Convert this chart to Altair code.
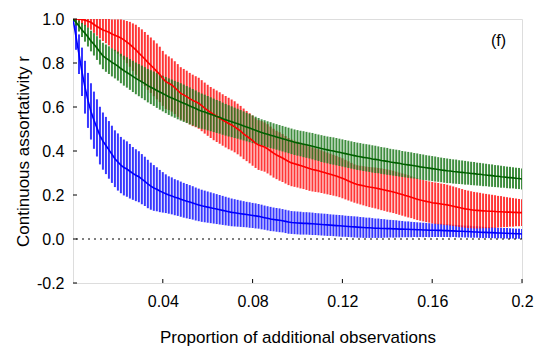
import altair as alt
import pandas as pd

# ---- data ----
N_STEPS = 150
X_MAX = 0.2
x_vals = [round(i * X_MAX / N_STEPS, 6) for i in range(N_STEPS + 1)]

blue_mean = [
    1.000, 0.920, 0.840, 0.760, 0.690, 0.630, 0.580, 0.540, 0.505, 0.470,
    0.445, 0.425, 0.405, 0.385, 0.365, 0.350, 0.336, 0.325, 0.318, 0.308,
    0.298, 0.290, 0.283, 0.272, 0.262, 0.250, 0.240, 0.232, 0.226, 0.218,
    0.212, 0.206, 0.200, 0.196, 0.190, 0.186, 0.181, 0.176, 0.172, 0.168,
    0.164, 0.159, 0.155, 0.151, 0.148, 0.145, 0.142, 0.139, 0.136, 0.133,
    0.130, 0.127, 0.124, 0.121, 0.119, 0.117, 0.115, 0.113, 0.111, 0.109,
    0.107, 0.105, 0.103, 0.100, 0.097, 0.094, 0.091, 0.089, 0.087, 0.085,
    0.083, 0.080, 0.077, 0.075, 0.074, 0.073, 0.072, 0.071, 0.071, 0.070,
    0.069, 0.068, 0.067, 0.066, 0.065, 0.064, 0.063, 0.062, 0.061, 0.060,
    0.059, 0.058, 0.057, 0.056, 0.055, 0.054, 0.053, 0.052, 0.051, 0.051,
    0.050, 0.049, 0.049, 0.048, 0.048, 0.047, 0.047, 0.046, 0.046, 0.045,
    0.045, 0.044, 0.044, 0.043, 0.043, 0.042, 0.042, 0.041, 0.041, 0.040,
    0.040, 0.040, 0.039, 0.039, 0.038, 0.038, 0.037, 0.037, 0.036, 0.035,
    0.035, 0.034, 0.034, 0.033, 0.032, 0.032, 0.031, 0.030, 0.030, 0.029,
    0.029, 0.028, 0.027, 0.027, 0.026, 0.026, 0.025, 0.025, 0.024, 0.024,
    0.023,
]
blue_err = [
    0.000, 0.060, 0.090, 0.110, 0.120, 0.125, 0.128, 0.130, 0.130, 0.131,
    0.130, 0.130, 0.131, 0.130, 0.129, 0.130, 0.128, 0.127, 0.126, 0.124,
    0.120, 0.118, 0.116, 0.114, 0.112, 0.110, 0.107, 0.104, 0.100, 0.096,
    0.092, 0.088, 0.085, 0.084, 0.082, 0.081, 0.080, 0.079, 0.078, 0.077,
    0.076, 0.075, 0.074, 0.073, 0.072, 0.071, 0.070, 0.069, 0.068, 0.067,
    0.066, 0.065, 0.064, 0.063, 0.062, 0.061, 0.060, 0.059, 0.058, 0.058,
    0.057, 0.057, 0.056, 0.056, 0.055, 0.055, 0.055, 0.054, 0.054, 0.054,
    0.053, 0.053, 0.053, 0.052, 0.052, 0.052, 0.052, 0.051, 0.051, 0.051,
    0.051, 0.050, 0.050, 0.050, 0.050, 0.050, 0.049, 0.049, 0.049, 0.049,
    0.049, 0.048, 0.048, 0.048, 0.048, 0.048, 0.047, 0.047, 0.046, 0.046,
    0.045, 0.044, 0.044, 0.043, 0.042, 0.041, 0.040, 0.040, 0.039, 0.038,
    0.037, 0.036, 0.036, 0.035, 0.034, 0.034, 0.033, 0.033, 0.032, 0.032,
    0.031, 0.031, 0.030, 0.030, 0.029, 0.029, 0.029, 0.028, 0.028, 0.028,
    0.027, 0.027, 0.027, 0.027, 0.026, 0.026, 0.026, 0.026, 0.025, 0.025,
    0.025, 0.025, 0.024, 0.024, 0.024, 0.024, 0.024, 0.023, 0.023, 0.023,
    0.023,
]

red_mean = [
    1.000, 1.000, 0.999, 0.998, 0.995, 0.990, 0.985, 0.975, 0.966, 0.958,
    0.950, 0.945, 0.940, 0.932, 0.926, 0.920, 0.914, 0.905, 0.895, 0.885,
    0.872, 0.860, 0.845, 0.832, 0.818, 0.803, 0.790, 0.776, 0.762, 0.748,
    0.730, 0.715, 0.708, 0.700, 0.688, 0.675, 0.662, 0.655, 0.647, 0.638,
    0.630, 0.624, 0.617, 0.606, 0.595, 0.585, 0.575, 0.566, 0.558, 0.550,
    0.541, 0.533, 0.525, 0.518, 0.510, 0.500, 0.490, 0.478, 0.468, 0.458,
    0.447, 0.436, 0.427, 0.423, 0.418, 0.410, 0.400, 0.390, 0.382, 0.375,
    0.368, 0.360, 0.352, 0.346, 0.342, 0.338, 0.334, 0.330, 0.325, 0.320,
    0.316, 0.313, 0.310, 0.306, 0.302, 0.298, 0.294, 0.290, 0.286, 0.281,
    0.276, 0.270, 0.264, 0.258, 0.252, 0.248, 0.245, 0.242, 0.239, 0.236,
    0.234, 0.232, 0.229, 0.226, 0.223, 0.220, 0.217, 0.214, 0.210, 0.206,
    0.202, 0.198, 0.194, 0.190, 0.185, 0.181, 0.177, 0.174, 0.171, 0.168,
    0.165, 0.163, 0.161, 0.159, 0.157, 0.155, 0.152, 0.149, 0.146, 0.143,
    0.140, 0.137, 0.135, 0.133, 0.131, 0.130, 0.129, 0.128, 0.127, 0.126,
    0.126, 0.125, 0.124, 0.124, 0.123, 0.122, 0.122, 0.121, 0.121, 0.120,
    0.120,
]
red_err = [
    0.000, 0.010, 0.015, 0.020, 0.025, 0.030, 0.034, 0.038, 0.042, 0.046,
    0.050, 0.055, 0.060, 0.066, 0.072, 0.078, 0.084, 0.090, 0.096, 0.102,
    0.108, 0.114, 0.118, 0.121, 0.123, 0.125, 0.126, 0.127, 0.127, 0.126,
    0.125, 0.124, 0.122, 0.121, 0.120, 0.120, 0.119, 0.118, 0.118, 0.117,
    0.117, 0.116, 0.116, 0.116, 0.116, 0.116, 0.116, 0.117, 0.117, 0.117,
    0.117, 0.117, 0.117, 0.116, 0.116, 0.115, 0.115, 0.115, 0.114, 0.114,
    0.114, 0.113, 0.113, 0.113, 0.112, 0.112, 0.111, 0.111, 0.110, 0.110,
    0.109, 0.108, 0.107, 0.106, 0.105, 0.104, 0.104, 0.103, 0.102, 0.101,
    0.100, 0.099, 0.098, 0.097, 0.096, 0.095, 0.094, 0.093, 0.092, 0.091,
    0.091, 0.090, 0.089, 0.088, 0.087, 0.087, 0.088, 0.089, 0.090, 0.091,
    0.092, 0.093, 0.094, 0.095, 0.095, 0.096, 0.096, 0.096, 0.096, 0.096,
    0.096, 0.096, 0.096, 0.095, 0.095, 0.095, 0.094, 0.094, 0.094, 0.094,
    0.094, 0.094, 0.094, 0.093, 0.093, 0.092, 0.091, 0.090, 0.089, 0.088,
    0.087, 0.086, 0.085, 0.084, 0.083, 0.082, 0.081, 0.079, 0.078, 0.077,
    0.075, 0.074, 0.072, 0.071, 0.069, 0.068, 0.066, 0.065, 0.063, 0.062,
    0.061,
]

green_mean = [
    1.000, 0.985, 0.968, 0.950, 0.935, 0.918, 0.900, 0.885, 0.868, 0.850,
    0.832, 0.822, 0.813, 0.803, 0.795, 0.786, 0.775, 0.765, 0.757, 0.748,
    0.739, 0.730, 0.722, 0.714, 0.706, 0.697, 0.690, 0.683, 0.675, 0.668,
    0.661, 0.654, 0.647, 0.641, 0.635, 0.629, 0.623, 0.617, 0.611, 0.605,
    0.599, 0.593, 0.586, 0.581, 0.577, 0.572, 0.567, 0.562, 0.557, 0.553,
    0.547, 0.542, 0.537, 0.533, 0.528, 0.524, 0.519, 0.514, 0.509, 0.504,
    0.499, 0.494, 0.489, 0.484, 0.480, 0.476, 0.472, 0.468, 0.464, 0.460,
    0.456, 0.452, 0.448, 0.444, 0.440, 0.437, 0.434, 0.431, 0.428, 0.425,
    0.422, 0.418, 0.415, 0.411, 0.408, 0.405, 0.402, 0.400, 0.397, 0.394,
    0.391, 0.388, 0.385, 0.382, 0.379, 0.376, 0.374, 0.371, 0.369, 0.367,
    0.364, 0.362, 0.360, 0.357, 0.355, 0.353, 0.350, 0.348, 0.346, 0.344,
    0.341, 0.339, 0.337, 0.335, 0.333, 0.331, 0.328, 0.326, 0.324, 0.322,
    0.320, 0.318, 0.316, 0.314, 0.312, 0.310, 0.309, 0.307, 0.306, 0.304,
    0.303, 0.301, 0.300, 0.298, 0.297, 0.295, 0.294, 0.292, 0.291, 0.289,
    0.288, 0.286, 0.285, 0.283, 0.282, 0.280, 0.279, 0.278, 0.276, 0.275,
    0.273,
]
green_err = [
    0.000, 0.015, 0.025, 0.032, 0.038, 0.043, 0.047, 0.051, 0.054, 0.057,
    0.060, 0.062, 0.063, 0.064, 0.065, 0.066, 0.067, 0.068, 0.069, 0.070,
    0.071, 0.072, 0.073, 0.074, 0.075, 0.076, 0.077, 0.078, 0.079, 0.080,
    0.081, 0.082, 0.083, 0.084, 0.084, 0.085, 0.085, 0.085, 0.084, 0.084,
    0.083, 0.082, 0.081, 0.080, 0.079, 0.078, 0.077, 0.076, 0.075, 0.074,
    0.073, 0.072, 0.071, 0.070, 0.069, 0.068, 0.067, 0.066, 0.065, 0.064,
    0.063, 0.062, 0.061, 0.060, 0.060, 0.059, 0.059, 0.058, 0.058, 0.058,
    0.058, 0.058, 0.058, 0.058, 0.058, 0.058, 0.058, 0.059, 0.059, 0.059,
    0.060, 0.060, 0.060, 0.061, 0.061, 0.061, 0.062, 0.062, 0.062, 0.062,
    0.062, 0.062, 0.062, 0.062, 0.062, 0.062, 0.062, 0.062, 0.062, 0.062,
    0.062, 0.062, 0.061, 0.061, 0.061, 0.061, 0.060, 0.060, 0.060, 0.060,
    0.059, 0.059, 0.059, 0.059, 0.058, 0.058, 0.058, 0.058, 0.057, 0.057,
    0.057, 0.057, 0.056, 0.056, 0.056, 0.056, 0.055, 0.055, 0.055, 0.054,
    0.054, 0.054, 0.053, 0.053, 0.053, 0.052, 0.052, 0.052, 0.051, 0.051,
    0.051, 0.050, 0.050, 0.050, 0.049, 0.049, 0.049, 0.048, 0.048, 0.048,
    0.048,
]

x_ticks = [0.04, 0.08, 0.12, 0.16, 0.2]
y_ticks = [-0.2, 0.0, 0.2, 0.4, 0.6, 0.8, 1.0]
series_names = ["blue", "red", "green"]
bar_colors = ["#1414ff", "#ff1414", "#1f7a1f"]
line_colors = ["#0000ff", "#ff0000", "#006000"]
panel_label = "(f)"

for arr in (blue_mean, blue_err, red_mean, red_err, green_mean, green_err):
    assert len(arr) == len(x_vals), len(arr)

rows = []
for name, means, errs in [("blue", blue_mean, blue_err),
                          ("red", red_mean, red_err),
                          ("green", green_mean, green_err)]:
    for x, m, e in zip(x_vals, means, errs):
        rows.append({"x": x, "mean": m, "lo": m - e, "hi": m + e,
                     "series": name})
df = pd.DataFrame(rows)

FONT = "Liberation Sans"
X_DOM = [0, 0.2]
Y_DOM = [-0.2, 1.0]
PLOT_W, PLOT_H = 449, 264
TICK_PX = 4

x_scale = alt.Scale(domain=X_DOM, nice=False, zero=False)
y_scale = alt.Scale(domain=Y_DOM, nice=False, zero=False)

x_axis = alt.Axis(
    values=x_ticks, format=".2~f", grid=False, domain=False,
    ticks=False, offset=0,
    labelFont=FONT, labelFontSize=16, labelColor="black", labelPadding=10,
    labelFlush=False, labelOverlap=False,
    title="Proportion of additional observations",
    titleFont=FONT, titleFontSize=17, titleFontWeight="normal",
    titleColor="black", titleBaseline="alphabetic", titleY=59,
)
y_axis = alt.Axis(
    values=y_ticks,
    labelExpr="datum.value < 0 ? '-' + format(-datum.value, '.1f') : format(datum.value, '.1f')",
    grid=False, domain=False,
    ticks=False, offset=0,
    labelFont=FONT, labelFontSize=16, labelColor="black", labelPadding=9,
    labelFlush=False, labelOverlap=False,
    title="Continuous assortativity r",
    titleFont=FONT, titleFontSize=17, titleFontWeight="normal",
    titleColor="black", titleBaseline="alphabetic", titleX=-45,
)

base = alt.Chart(df)

bars = base.mark_rule(strokeWidth=2, opacity=0.85, clip=True).encode(
    x=alt.X("x:Q", scale=x_scale, axis=x_axis),
    y=alt.Y("lo:Q", scale=y_scale, axis=y_axis),
    y2="hi:Q",
    color=alt.Color("series:N", legend=None,
                    scale=alt.Scale(domain=series_names, range=bar_colors)),
)

lines = base.mark_line(strokeWidth=1.6, clip=True).encode(
    x=alt.X("x:Q", scale=x_scale),
    y=alt.Y("mean:Q", scale=y_scale),
    color=alt.Color("series:N", legend=None,
                    scale=alt.Scale(domain=series_names, range=line_colors)),
    detail="series:N",
    order="x:Q",
)

zero = alt.Chart(pd.DataFrame({"y": [0.0]})).mark_rule(
    color="black", strokeWidth=1, strokeDash=[2, 4]
).encode(y=alt.Y("y:Q", scale=y_scale))

# inward tick marks (length TICK_PX pixels, expressed in data units)
x_tick_len = TICK_PX * (Y_DOM[1] - Y_DOM[0]) / PLOT_H
y_tick_len = TICK_PX * (X_DOM[1] - X_DOM[0]) / PLOT_W
xt_df = pd.DataFrame({"v": x_ticks})
yt_df = pd.DataFrame({"v": y_ticks})
x_tick_marks = alt.Chart(xt_df).transform_calculate(
    y0=str(Y_DOM[0]), y1=f"{Y_DOM[0] + x_tick_len}"
).mark_rule(color="black", strokeWidth=1).encode(
    x=alt.X("v:Q", scale=x_scale),
    y=alt.Y("y0:Q", scale=y_scale),
    y2="y1:Q",
)
y_tick_marks = alt.Chart(yt_df).transform_calculate(
    x0=str(X_DOM[0]), x1=f"{X_DOM[0] + y_tick_len}"
).mark_rule(color="black", strokeWidth=1).encode(
    y=alt.Y("v:Q", scale=y_scale),
    x=alt.X("x0:Q", scale=x_scale),
    x2="x1:Q",
)

label = alt.Chart(pd.DataFrame({"t": [panel_label]})).mark_text(
    font=FONT, fontSize=16, color="black", align="center", baseline="middle"
).encode(x=alt.datum(0.1895, scale=x_scale), y=alt.datum(0.9, scale=y_scale), text="t:N")

chart = alt.layer(bars, zero, lines, x_tick_marks, y_tick_marks, label).resolve_scale(
    color="independent"
).properties(
    width=PLOT_W, height=PLOT_H,
    autosize=alt.AutoSizeParams(type="none"),
    padding={"left": 73, "top": 19, "right": 22, "bottom": 69},
).configure_view(
    stroke="black", strokeWidth=2
).configure(background="white")

chart.save("out.html", embed_options={"renderer": "svg", "actions": False})
